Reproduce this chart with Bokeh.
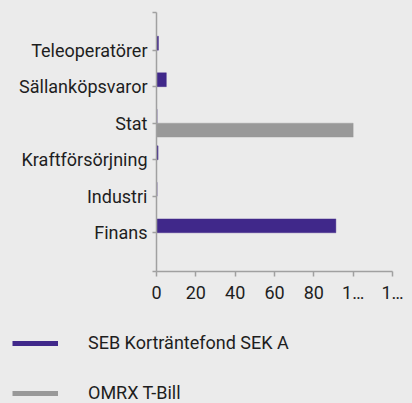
from bokeh.plotting import figure
from bokeh.layouts import column, row
from bokeh.models import (ColumnDataSource, FixedTicker, Range1d, Legend, LegendItem,
                          GlobalInlineStyleSheet)
from bokeh.embed import file_html
from bokeh.resources import INLINE

categories = ["Teleoperatörer", "Sällanköpsvaror", "Stat", "Kraftförsörjning", "Industri", "Finans"]
fund_values = [1.0, 5.0, 0.3, 0.8, 0.3, 91.2]
bench_values = [0.0, 0.0, 100.0, 0.0, 0.0, 0.0]
series_names = ["SEB Korträntefond SEK A", "OMRX T-Bill"]
x_ticks = [0, 20, 40, 60, 80, 100, 120]
x_tick_labels = ["0", "20", "40", "60", "80", "1…", "1…"]

BG = "#ebebeb"
PURPLE = "#40288a"
GRAY = "#999999"
FONT = "Roboto"
TXT = "#1e1e1e"

n = len(categories)
pos = [n - i for i in range(n)]  # top category highest
bar_h = 0.38

src = ColumnDataSource(dict(
    cat=categories,
    y_f=[p_ + bar_h / 2 for p_ in pos],
    y_b=[p_ - bar_h / 2 for p_ in pos],
    fund=fund_values,
    bench=bench_values,
))

y_lo, y_hi = -0.06, n + 1.03
p = figure(width=412, height=305, output_backend="svg", toolbar_location=None,
           x_range=Range1d(0, 120), y_range=Range1d(y_lo, y_hi),
           min_border_left=156, min_border_right=20, min_border_top=12, min_border_bottom=32)
p.stylesheets = [GlobalInlineStyleSheet(css=f"body {{ background: {BG}; }}")]
p.background_fill_color = BG
p.border_fill_color = BG
p.outline_line_color = None
p.grid.visible = False

p.hbar(y="y_f", right="fund", left=0, height=bar_h, source=src,
       fill_color=PURPLE, line_color=PURPLE, line_alpha=0.4)
p.hbar(y="y_b", right="bench", left=0, height=bar_h, source=src,
       fill_color=GRAY, line_color=GRAY, line_alpha=0.4)

# axes
p.xaxis.ticker = FixedTicker(ticks=x_ticks)
p.xaxis.major_label_overrides = {t: l for t, l in zip(x_ticks, x_tick_labels)}
yt = [y_lo] + pos[::-1] + [y_hi]
p.yaxis.ticker = FixedTicker(ticks=yt)
ov = {y_lo: "", y_hi: ""}
for c, p_ in zip(categories, pos):
    ov[p_] = c
p.yaxis.major_label_overrides = ov

for ax in (p.xaxis[0], p.yaxis[0]):
    ax.axis_line_color = "#a0a0a0"
    ax.axis_line_width = 1.5
    ax.major_tick_line_color = "#a0a0a0"
    ax.major_tick_line_width = 1.5
    ax.major_tick_in = 0
    ax.minor_tick_line_color = None
    ax.major_label_text_font = FONT
    ax.major_label_text_font_size = "18px"
    ax.major_label_text_color = TXT
p.xaxis.major_tick_out = 5
p.yaxis.major_tick_out = 4
p.yaxis.major_label_standoff = 5
p.xaxis.major_label_standoff = 5

# legend figure
lg = figure(width=412, height=98, output_backend="svg", toolbar_location=None,
            x_range=Range1d(0, 1), y_range=Range1d(0, 1),
            x_axis_location=None, y_axis_location=None,
            min_border_left=0, min_border_right=0, min_border_top=0, min_border_bottom=0)
lg.background_fill_color = BG
lg.border_fill_color = BG
lg.outline_line_color = None
lg.grid.visible = False
l1 = lg.line(x=[-2, -1], y=[-2, -1], line_color=PURPLE, line_width=5)
l2 = lg.line(x=[-2, -1], y=[-2, -1], line_color=GRAY, line_width=5)

legend = Legend(items=[LegendItem(label=series_names[0], renderers=[l1]),
                       LegendItem(label=series_names[1], renderers=[l2])],
                location=(12, 0), orientation="vertical",
                glyph_width=46, glyph_height=16, label_height=16,
                label_standoff=30, spacing=29, padding=0, margin=0,
                border_line_color=None, background_fill_alpha=0,
                label_text_font=FONT, label_text_font_size="18px", label_text_color=TXT)
lg.add_layout(legend, "center")

layout = column(p, row(lg), spacing=0)
open("out.html", "w").write(file_html(layout, INLINE))
